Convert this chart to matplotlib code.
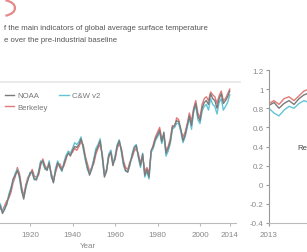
import numpy as np
import matplotlib.pyplot as plt
from matplotlib.lines import Line2D
from matplotlib.patches import Arc

# годовые аномалии, 1906-2014
years = np.arange(1906, 2015)

noaa = [-0.22, -0.30, -0.26, -0.20,
        -0.12, -0.05, 0.06, 0.10, 0.15, 0.09, -0.05, -0.15, -0.02, 0.05,
        0.12, 0.14, 0.06, 0.05, 0.12, 0.23, 0.25, 0.18, 0.15, 0.23,
        0.10, 0.02, 0.15, 0.23, 0.19, 0.15, 0.22, 0.29, 0.33, 0.30,
        0.36, 0.40, 0.39, 0.42, 0.48, 0.40, 0.28, 0.18, 0.10, 0.16,
        0.25, 0.35, 0.40, 0.46, 0.30, 0.08, 0.14, 0.30, 0.34, 0.20,
        0.28, 0.40, 0.46, 0.36, 0.22, 0.15, 0.13, 0.22, 0.30, 0.38,
        0.41, 0.30, 0.20, 0.32, 0.10, 0.16, 0.08, 0.36, 0.40, 0.48,
        0.52, 0.57, 0.45, 0.55, 0.33, 0.38, 0.45, 0.60, 0.62, 0.67,
        0.66, 0.58, 0.46, 0.52, 0.62, 0.72, 0.62, 0.78, 0.85, 0.72,
        0.67, 0.80, 0.86, 0.88, 0.84, 0.95, 0.90, 0.88, 0.80, 0.90,
        0.95, 0.85, 0.88, 0.92, 0.98]

berkeley = [-0.25, -0.27, -0.22, -0.17,
            -0.14, -0.08, 0.02, 0.08, 0.18, 0.12, -0.02, -0.12, 0.00, 0.08,
            0.10, 0.16, 0.09, 0.08, 0.10, 0.20, 0.27, 0.20, 0.17, 0.20,
            0.12, 0.05, 0.13, 0.20, 0.22, 0.17, 0.20, 0.27, 0.35, 0.32,
            0.34, 0.38, 0.36, 0.40, 0.45, 0.42, 0.30, 0.22, 0.14, 0.18,
            0.22, 0.32, 0.38, 0.42, 0.32, 0.12, 0.16, 0.28, 0.36, 0.24,
            0.26, 0.38, 0.43, 0.38, 0.25, 0.18, 0.16, 0.24, 0.28, 0.35,
            0.38, 0.32, 0.23, 0.30, 0.14, 0.18, 0.12, 0.34, 0.42, 0.50,
            0.55, 0.60, 0.48, 0.52, 0.36, 0.40, 0.48, 0.62, 0.60, 0.70,
            0.68, 0.56, 0.50, 0.55, 0.64, 0.75, 0.66, 0.80, 0.88, 0.75,
            0.70, 0.84, 0.90, 0.92, 0.88, 0.97, 0.94, 0.92, 0.85, 0.93,
            0.98, 0.88, 0.90, 0.95, 1.00]

cw = [-0.20, -0.28, -0.24, -0.21,
      -0.10, -0.03, 0.04, 0.12, 0.16, 0.07, -0.07, -0.13, -0.04, 0.06,
      0.13, 0.12, 0.05, 0.07, 0.14, 0.25, 0.23, 0.16, 0.16, 0.25,
      0.08, 0.03, 0.17, 0.25, 0.18, 0.14, 0.24, 0.31, 0.35, 0.33,
      0.38, 0.44, 0.42, 0.45, 0.50, 0.38, 0.26, 0.16, 0.12, 0.18,
      0.27, 0.38, 0.42, 0.48, 0.28, 0.10, 0.15, 0.32, 0.36, 0.22,
      0.30, 0.42, 0.47, 0.34, 0.20, 0.14, 0.14, 0.20, 0.32, 0.40,
      0.42, 0.28, 0.18, 0.33, 0.08, 0.14, 0.06, 0.34, 0.38, 0.46,
      0.50, 0.55, 0.43, 0.52, 0.30, 0.35, 0.43, 0.58, 0.60, 0.64,
      0.64, 0.55, 0.44, 0.50, 0.60, 0.70, 0.58, 0.76, 0.83, 0.68,
      0.64, 0.77, 0.82, 0.84, 0.78, 0.90, 0.84, 0.82, 0.74, 0.86,
      0.90, 0.78, 0.82, 0.86, 0.94]

# помесячно, 2013-2014
months = 2013 + np.arange(24) / 12
noaa_m = [0.83, 0.86, 0.80, 0.85, 0.88, 0.84, 0.90, 0.94, 0.96, 0.92, 0.90, 0.94,
          0.92, 0.88, 0.93, 0.97, 1.00, 0.98, 0.95, 0.99, 1.02, 0.98, 0.95, 1.00]
berkeley_m = [0.85, 0.88, 0.84, 0.90, 0.92, 0.88, 0.93, 0.98, 1.00, 0.96, 0.94, 0.98,
              0.95, 0.90, 0.96, 1.00, 1.03, 1.00, 0.97, 1.01, 1.04, 1.00, 0.97, 1.02]
cw_m = [0.80, 0.75, 0.72, 0.78, 0.82, 0.80, 0.85, 0.88, 0.86, 0.84, 0.87, 0.90,
        0.88, 0.84, 0.89, 0.93, 0.96, 0.94, 0.91, 0.95, 0.98, 0.94, 0.91, 0.96]

year_ticks = [1920, 1940, 1960, 1980, 2000, 2014]
month_ticks = [2013]
temp_ticks = [-0.4, -0.2, 0, 0.2, 0.4, 0.6, 0.8, 1, 1.2]
temp_labels = ['-0.4', '-0.2', '0', '0.2', '0.4', '0.6', '0.8', '1', '1.2']

c_noaa = '#7a7a7a'
c_berk = '#e07a78'
c_cw = '#62c4d4'
grey = '#888888'

plt.rcParams['font.family'] = ['Liberation Sans', 'DejaVu Sans']

W, H = 307, 253
fig = plt.figure(figsize=(W / 100, H / 100), dpi=100)


def px(x0, y0, x1, y1):
    # прямоугольник в пикселях -> доли фигуры
    return [x0 / W, 1 - y1 / H, (x1 - x0) / W, (y1 - y0) / H]


# логотип и заголовок
fig.add_artist(Arc((2 / W, 1 - 9 / H), 26 / W, 16 / H, theta1=-70, theta2=70,
                   transform=fig.transFigure, color='#e06b6b', lw=1.6, alpha=0.8))
fig.text(4 / W, 1 - 29 / H, 'f the main indicators of global average surface temperature',
         fontsize=5.6, color='#555555', va='center')
fig.text(4 / W, 1 - 41 / H, 'e over the pre-industrial baseline',
         fontsize=5.6, color='#555555', va='center')
fig.add_artist(Line2D([0, 240 / W], [1 - 83 / H, 1 - 83 / H], transform=fig.transFigure,
                      color='#e6e6e6', lw=1.2))

# левая панель
ax = fig.add_axes(px(-60, 71, 236, 224))
ax.plot(years, berkeley, color=c_berk, lw=1.0, label='Berkeley')
ax.plot(years, cw, color=c_cw, lw=1.0, label='C&W v2')
ax.plot(years, noaa, color=c_noaa, lw=1.0, label='NOAA')
ax.set_xlim(1877.6, 2016.95)
ax.set_ylim(-0.4, 1.2)
ax.set_xticks(year_ticks)
ax.set_yticks([])
for s in ['left', 'right', 'top']:
    ax.spines[s].set_visible(False)
ax.spines['bottom'].set_color('#bbbbbb')
ax.tick_params(axis='x', length=2, color='#bbbbbb', labelsize=5.8, labelcolor=grey, pad=4)
ax.set_xlabel('Year', fontsize=5.8, color=grey, labelpad=3)

h = {l.get_label(): l for l in ax.get_lines()}
leg = ax.legend([h['NOAA'], h['Berkeley'], h['C&W v2']], ['NOAA', 'Berkeley', 'C&W v2'],
                ncol=2, loc='upper left', bbox_to_anchor=(1 / W, 1 - 89 / H),
                bbox_transform=fig.transFigure, frameon=False, fontsize=5.6,
                handlelength=1.2, handletextpad=0.4, columnspacing=1.5,
                labelspacing=0.5, borderpad=0)
for t in leg.get_texts():
    t.set_color('#777777')

# правая панель (обрезана справа)
ax2 = fig.add_axes(px(269, 71, 449, 224))
ax2.plot(months, berkeley_m, color=c_berk, lw=1.0)
ax2.plot(months, cw_m, color=c_cw, lw=1.0)
ax2.plot(months, noaa_m, color=c_noaa, lw=1.0)
ax2.set_xlim(2013, 2016)
ax2.set_ylim(-0.4, 1.2)
ax2.set_yticks(temp_ticks)
ax2.set_yticklabels(temp_labels)
ax2.set_xticks(month_ticks)
for s in ['right', 'top']:
    ax2.spines[s].set_visible(False)
ax2.spines['left'].set_color('#999999')
ax2.spines['bottom'].set_color('#bbbbbb')
ax2.tick_params(length=2, color='#999999', labelsize=5.8, labelcolor=grey, pad=2)
ax2.tick_params(axis='x', pad=4)
ax2.text(2013.47, 0.39, 'Record', fontsize=5.6, color='#444444', va='center')

fig.savefig('out.png', dpi=100)
